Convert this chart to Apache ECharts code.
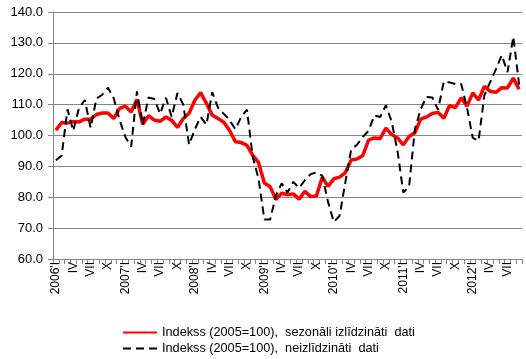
<!DOCTYPE html>
<html>
<head>
<meta charset="utf-8">
<script src="https://cdn.jsdelivr.net/npm/echarts@6/dist/echarts.min.js"></script>
<style>html,body{margin:0;padding:0;background:#fff;}#c{width:526px;height:359px;}</style>
</head>
<body>
<div id="c"></div>
<script>
const years = [2006, 2007, 2008, 2009, 2010, 2011, 2012];
const monthNumerals = ['I','II','III','IV','V','VI','VII','VIII','IX','X','XI','XII'];
const lastYearMonths = 9;
const seriesNames = ['Indekss (2005=100),  sezonāli izlīdzināti  dati', 'Indekss (2005=100),  neizlīdzināti  dati'];
const yTicks = [60, 70, 80, 90, 100, 110, 120, 130, 140];

const seasonallyAdjusted = [
  101.7, 104.2, 104.0, 104.5, 104.4, 105.3, 105.3, 106.8, 107.3, 107.3, 105.5, 108.8,
  109.5, 107.6, 111.7, 103.6, 106.4, 105.0, 104.6, 106.0, 104.9, 102.6, 105.5, 107.2,
  111.4, 113.9, 110.4, 106.6, 105.5, 104.3, 101.6, 98.0, 97.7, 96.8, 93.6, 91.2,
  84.6, 83.4, 79.3, 81.3, 80.8, 81.1, 79.4, 81.9, 80.2, 80.4, 86.5, 83.5,
  86.0, 86.5, 88.0, 92.1, 92.4, 93.5, 98.5, 99.2, 99.0, 102.4, 100.3, 99.2,
  97.0, 99.7, 100.9, 105.3, 106.0, 107.1, 107.5, 105.6, 109.7, 109.0, 112.2, 109.5,
  113.8, 111.5, 115.9, 114.3, 114.0, 115.5, 115.4, 118.6, 115.0
];
const notAdjusted = [
  92.0, 93.5, 108.5, 101.5, 109.0, 111.5, 102.5, 112.0, 113.2, 115.5, 112.0, 105.0,
  99.5, 96.4, 114.3, 103.5, 112.3, 111.8, 107.0, 112.2, 106.0, 113.8, 110.0, 97.0,
  102.0, 106.0, 103.5, 114.0, 109.0, 107.0, 105.0, 102.0, 106.0, 108.4, 93.0, 86.0,
  72.8, 72.8, 80.5, 84.5, 81.5, 85.0, 83.0, 85.5, 87.5, 88.0, 87.0, 78.5,
  72.0, 74.0, 85.0, 95.5, 97.0, 99.5, 101.5, 106.5, 106.0, 109.8, 104.4, 95.0,
  81.5, 83.5, 102.0, 108.5, 112.5, 112.3, 108.3, 117.5, 117.2, 116.7, 116.7, 109.0,
  99.2, 98.3, 113.0, 117.3, 121.5, 126.0, 120.5, 132.0, 116.5
];

const categories = [];
years.forEach((y, yi) => {
  const n = yi === years.length - 1 ? lastYearMonths : 12;
  for (let m = 0; m < n; m++) {
    categories.push(m === 0 ? y + "'" + monthNumerals[m] : monthNumerals[m]);
  }
});

const axisColor = '#868686';
const fontFam = '"Liberation Sans", Arial, sans-serif';

const legendBase = {
  orient: 'horizontal',
  left: 122,
  itemWidth: 34,
  itemHeight: 14,
  itemGap: 4,
  padding: 0,
  itemStyle: {opacity: 0},
  textStyle: {fontFamily: fontFam, fontSize: 12.7, color: '#000'}
};

const chart = echarts.init(document.getElementById('c'), null, {renderer: 'canvas'});
chart.setOption({
  animation: false,
  backgroundColor: '#ffffff',
  grid: {left: 53, right: 4, top: 12, bottom: 100, containLabel: false},
  legend: [
    Object.assign({}, legendBase, {top: 326, data: [seriesNames[0]]}),
    Object.assign({}, legendBase, {top: 342, data: [seriesNames[1]]})
  ],
  xAxis: {
    type: 'category',
    data: categories,
    boundaryGap: true,
    axisLine: {show: true, lineStyle: {color: axisColor, width: 1}},
    axisTick: {show: true, interval: 0, length: 5, lineStyle: {color: axisColor}},
    axisLabel: {interval: 2, rotate: 90, margin: 3, fontFamily: fontFam, fontSize: 12, color: '#000'},
    splitLine: {show: false}
  },
  yAxis: {
    type: 'value',
    min: yTicks[0],
    max: yTicks[yTicks.length - 1],
    interval: 10,
    axisLine: {show: true, lineStyle: {color: axisColor, width: 1}},
    axisTick: {show: true, length: 5, lineStyle: {color: axisColor}},
    axisLabel: {margin: 10, fontFamily: fontFam, fontSize: 13, color: '#000',
      formatter: v => v.toFixed(1)},
    splitLine: {show: true, lineStyle: {color: axisColor, width: 1}}
  },
  series: [
    {
      name: seriesNames[0],
      type: 'line',
      data: seasonallyAdjusted,
      symbol: 'none',
      lineStyle: {color: '#ff0000', width: 3.5},
      itemStyle: {color: '#ff0000'},
      z: 2
    },
    {
      name: seriesNames[1],
      type: 'line',
      data: notAdjusted,
      symbol: 'none',
      lineStyle: {color: '#000000', width: 2, type: [8, 5]},
      itemStyle: {color: '#000000'},
      z: 3
    }
  ]
});
</script>
</body>
</html>
